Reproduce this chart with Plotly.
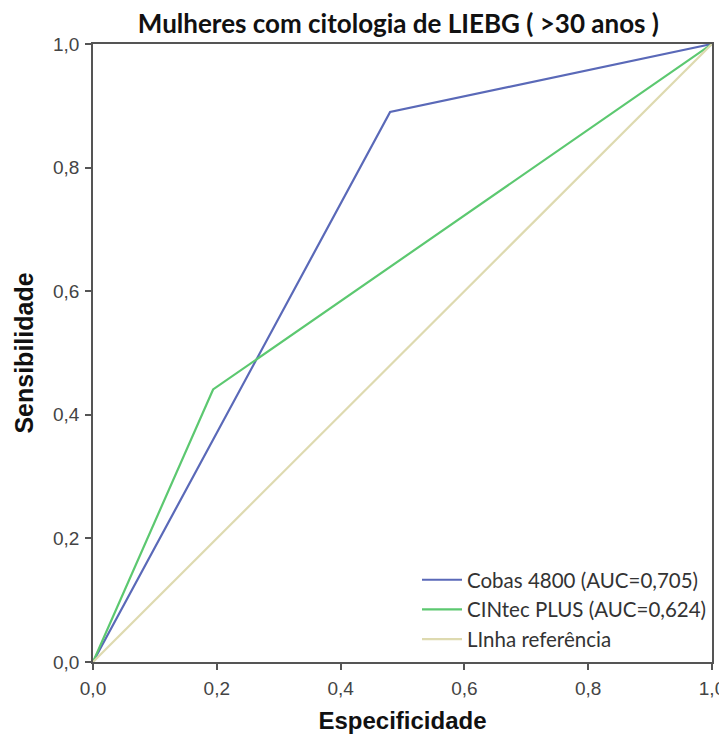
import plotly.graph_objects as go

cobas_x = [0.0, 0.48, 1.0]
cobas_y = [0.0, 0.890, 1.0]
cintec_x = [0.0, 0.194, 1.0]
cintec_y = [0.0, 0.441, 1.0]
ref_x = [0.0, 1.0]
ref_y = [0.0, 1.0]

names = ["Cobas 4800 (AUC=0,705)", "CINtec PLUS (AUC=0,624)", "LInha referência"]
colors = ["#5a69b8", "#5cc870", "#dedab0"]

fig = go.Figure()
fig.add_trace(go.Scatter(x=cobas_x, y=cobas_y, mode="lines", name=names[0],
                         line=dict(color=colors[0], width=2.2)))
fig.add_trace(go.Scatter(x=cintec_x, y=cintec_y, mode="lines", name=names[1],
                         line=dict(color=colors[1], width=2.2)))
fig.add_trace(go.Scatter(x=ref_x, y=ref_y, mode="lines", name=names[2],
                         line=dict(color=colors[2], width=2.2)))

axis_common = dict(
    range=[0, 1], tickvals=[0, 0.2, 0.4, 0.6, 0.8, 1.0], tickformat=".1f",
    showgrid=False, zeroline=False, showline=True, linecolor="#555555", linewidth=1.5,
    mirror=True, ticks="outside", ticklen=6, tickcolor="#555555", tickwidth=1.5,
    tickfont=dict(family="Liberation Sans, Arial", size=19, color="#444444"),
    ticklabelstandoff=2,
    automargin=False,
)

# figure is placed 8px from the page corner by the browser's default body margin
fig.update_layout(
    width=719, height=726,
    margin=dict(l=85, r=15, t=36, b=72),
    plot_bgcolor="white", paper_bgcolor="white",
    separators=",.",
    title=dict(text="Mulheres com citologia de LIEBG ( >30 anos )", x=0.543, xanchor="center",
               y=0.978, yanchor="middle",
               font=dict(family="Lato", size=26, color="#111111", weight=700)),
    xaxis=dict(**axis_common, title=dict(text="<b>Especificidade</b>", standoff=20,
               font=dict(family="Liberation Sans, Arial", size=24, color="#111111"))),
    yaxis=dict(**axis_common, title=dict(text="<b>Sensibilidade</b>", standoff=12,
               font=dict(family="Liberation Sans, Arial", size=25, color="#111111"))),
    legend=dict(x=1.0, y=0.005, xanchor="right", yanchor="bottom",
                bgcolor="rgba(255,255,255,1)", borderwidth=0,
                font=dict(family="Lato", size=20.5, color="#333333"),
                itemwidth=40, tracegroupgap=0),
    showlegend=True,
)

fig.write_html("out.html")
